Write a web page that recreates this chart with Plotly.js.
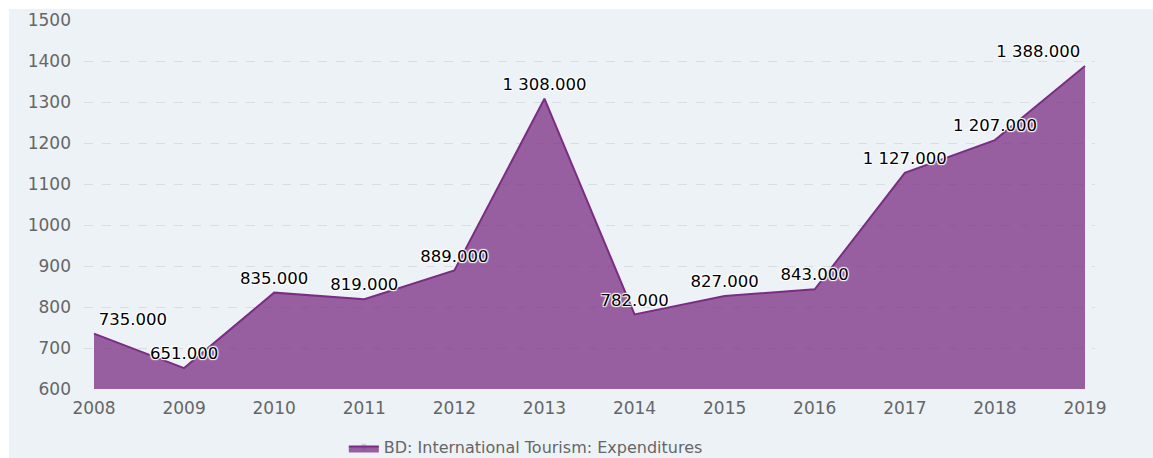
<!DOCTYPE html>
<html>
<head>
<meta charset="utf-8">
<script src="https://cdn.plot.ly/plotly-3.0.1.min.js"></script>
<style>
  html, body { margin: 0; padding: 0; background: #ffffff; width: 1153px; height: 458px; overflow: hidden; }
  #chart { position: absolute; left: 9px; top: 9px; width: 1144px; height: 480px; background: #edf2f7; }
</style>
</head>
<body>
<div id="chart"></div>
<script>
const years = [2008, 2009, 2010, 2011, 2012, 2013, 2014, 2015, 2016, 2017, 2018, 2019];
const expenditures = [735, 651, 835, 819, 889, 1308, 782, 827, 843, 1127, 1207, 1388];
const seriesName = "BD: International Tourism: Expenditures";
const yTicks = [600, 700, 800, 900, 1000, 1100, 1200, 1300, 1400, 1500];

function fmt(v) {
  const s = v.toFixed(3);
  const parts = s.split(".");
  const intPart = parts[0].replace(/\B(?=(\d{3})+(?!\d))/g, " ");
  return intPart + "." + parts[1];
}
const labels = expenditures.map(fmt);
const positions = years.map((y, i) => i === 0 ? "top right" : (i === years.length - 1 ? "top left" : "top center"));

const trace = {
  x: years,
  y: expenditures,
  type: "scatter",
  mode: "lines+markers+text",
  name: seriesName,
  fill: "tozeroy",
  fillcolor: "rgba(123,45,131,0.75)",
  line: { color: "#7b2d83", width: 2 },
  marker: { size: 6, opacity: 0, color: "#7b2d83" },
  text: labels,
  textposition: positions,
  textfont: {
    family: "DejaVu Sans, Verdana, sans-serif",
    size: 16.5,
    color: "#000000",
    shadow: "1px 1px 1px #ffffff, -1px -1px 1px #ffffff, 1px -1px 1px #ffffff, -1px 1px 1px #ffffff"
  },
  cliponaxis: false,
  hoverinfo: "x+y"
};

const layout = {
  width: 1144,
  height: 480,
  paper_bgcolor: "#edf2f7",
  plot_bgcolor: "#edf2f7",
  margin: { l: 75, r: 58, t: 11, b: 99.5 },
  font: { family: "DejaVu Sans, Verdana, sans-serif", color: "#666666" },
  xaxis: {
    range: [2007.889, 2019.111],
    tickvals: years,
    ticktext: years.map(String),
    showgrid: false,
    zeroline: false,
    showline: false,
    ticks: "",
    tickfont: { size: 17, color: "#666666" },
    ticklabelstandoff: 7
  },
  yaxis: {
    range: [600, 1500],
    tickvals: yTicks,
    ticktext: yTicks.map(String),
    showgrid: true,
    gridcolor: "#d8dde3",
    griddash: "dash",
    gridwidth: 1,
    zeroline: false,
    showline: false,
    ticks: "",
    tickfont: { size: 17, color: "#666666" },
    ticklabelstandoff: 12
  },
  showlegend: true,
  legend: {
    orientation: "h",
    x: 0.257,
    xanchor: "left",
    y: -0.156,
    yanchor: "middle",
    bgcolor: "rgba(0,0,0,0)",
    font: { size: 16, color: "#666666" }
  }
};

Plotly.newPlot("chart", [trace], layout, { displayModeBar: false });
</script>
</body>
</html>
